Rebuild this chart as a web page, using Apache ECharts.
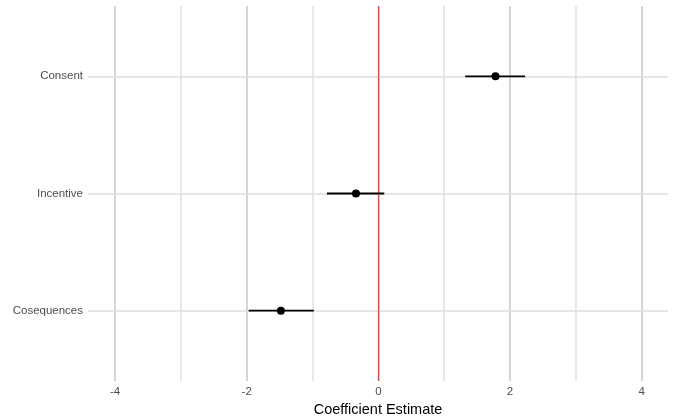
<!DOCTYPE html>
<html>
<head>
<meta charset="utf-8">
<script src="https://cdn.jsdelivr.net/npm/echarts@6/dist/echarts.min.js"></script>
<style>html,body{margin:0;padding:0;background:#fff}#c{width:675px;height:420px}</style>
</head>
<body>
<div id="c"></div>
<script>
const categories = ['Cosequences', 'Incentive', 'Consent'];
const estimates = [-1.48, -0.34, 1.78];
const lower = [-1.97, -0.78, 1.32];
const upper = [-0.98, 0.09, 2.23];
const majorTicks = [-4, -2, 0, 2, 4];
const minorTicks = [-3, -1, 1, 3];
const xLabel = 'Coefficient Estimate';

const chart = echarts.init(document.getElementById('c'));
const font = 'Liberation Sans, Arial, sans-serif';
const catPos = categories.map((c, i) => i + 1);

const gridMarks = [];
majorTicks.forEach(v => gridMarks.push({xAxis: v, lineStyle: {color: '#cccccc', width: 1.6, type: 'solid'}}));
minorTicks.forEach(v => gridMarks.push({xAxis: v, lineStyle: {color: '#e2e2e2', width: 1.6, type: 'solid'}}));
catPos.forEach(v => gridMarks.push({yAxis: v, lineStyle: {color: '#dedede', width: 1.6, type: 'solid'}}));

chart.setOption({
  animation: false,
  grid: {left: 88, right: 7, top: 6, bottom: 39, outerBoundsMode: 'none', containLabel: false},
  xAxis: {
    type: 'value', min: -4.41, max: 4.40,
    name: xLabel, nameLocation: 'middle', nameGap: 20,
    nameTextStyle: {color: '#000', fontSize: 14.5, fontFamily: font},
    axisLine: {show: false},
    axisTick: {show: false, customValues: majorTicks},
    splitLine: {show: false},
    axisLabel: {customValues: majorTicks, color: '#4d4d4d', fontSize: 11.5, fontFamily: font, margin: 5}
  },
  yAxis: {
    type: 'value', min: 0.4, max: 3.6,
    axisLine: {show: false},
    axisTick: {show: false, customValues: catPos},
    splitLine: {show: false},
    axisLabel: {customValues: catPos, color: '#4d4d4d', fontSize: 11.5, fontFamily: font, margin: 5,
      formatter: v => categories[Math.round(v) - 1] || ''}
  },
  series: [
    {
      type: 'line', data: [], silent: true, z: 1,
      markLine: {silent: true, z: 1, symbol: 'none', label: {show: false}, animation: false, data: gridMarks}
    },
    {
      type: 'line', data: [], silent: true, z: 2,
      markLine: {silent: true, z: 2, symbol: 'none', label: {show: false}, animation: false,
        data: [{xAxis: 0, lineStyle: {color: '#ff3b3b', width: 1.2, type: 'solid'}}]}
    },
    {
      type: 'custom', z: 3,
      data: catPos.map((y, i) => [lower[i], upper[i], y]),
      renderItem: (params, api) => {
        const p1 = api.coord([api.value(0), api.value(2)]);
        const p2 = api.coord([api.value(1), api.value(2)]);
        return {type: 'line', shape: {x1: p1[0], y1: p1[1], x2: p2[0], y2: p2[1]},
          style: {stroke: '#000', lineWidth: 1.8}};
      },
      encode: {x: [0, 1], y: 2}
    },
    {
      type: 'scatter', z: 4, symbolSize: 8,
      itemStyle: {color: '#000', opacity: 1},
      data: catPos.map((y, i) => [estimates[i], y])
    }
  ]
});
</script>
</body>
</html>
